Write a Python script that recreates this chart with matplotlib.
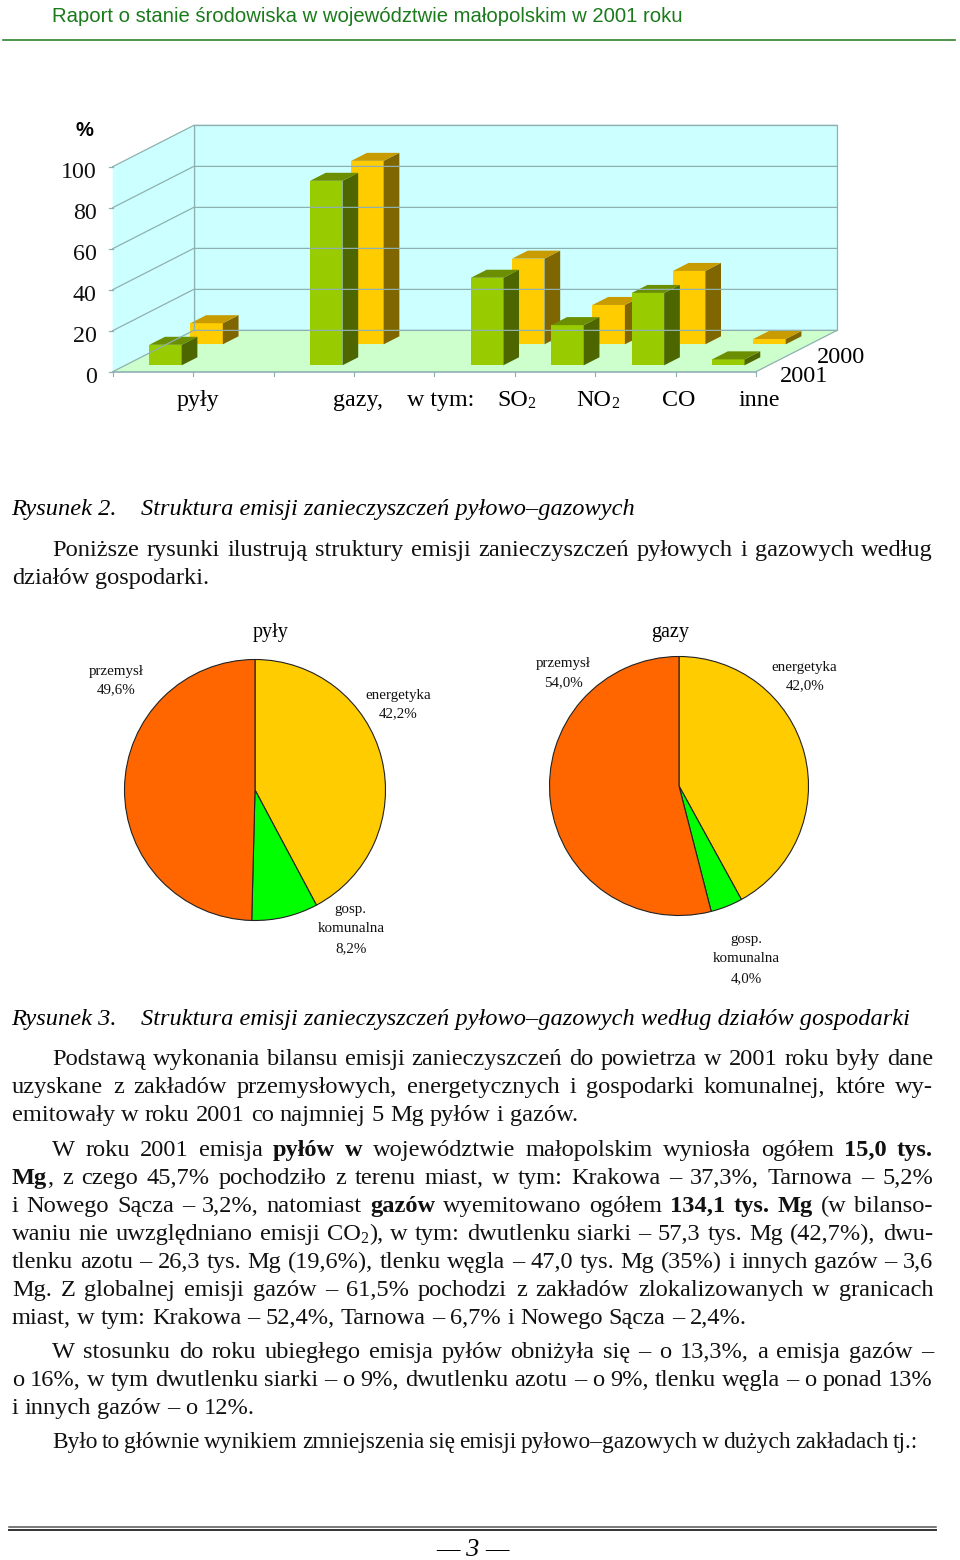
import re
import matplotlib
matplotlib.use("Agg")
import matplotlib.pyplot as plt
from matplotlib.patches import Polygon

plt.rcParams['font.family'] = ['Liberation Serif', 'DejaVu Serif']

W, H = 960, 1560

# bar chart data
years = ['2001', '2000']
slots = [0, 2, 4, 5, 6, 7]
values_2001 = [10, 90, 42.7, 19.6, 35.3, 2.9]
values_2000 = [10.3, 89.5, 41.8, 19.2, 35.8, 2.6]
y_ticks = [0, 20, 40, 60, 80, 100]

# pie data
pie_pyly = [42.2, 8.2, 49.6]
pie_gazy = [42.0, 4.0, 54.0]
pie_colors = ['#FFCC00', '#00FF00', '#FF6600']

HEADER = 'Raport o stanie środowiska w województwie małopolskim w 2001 roku'

BODY_SIZE = 17.6

# (y, x0, x1 or None when not justified, font size, text); * toggles bold, ~ toggles subscript
body = [
    (548, 52, 933, BODY_SIZE, 'Poniższe rysunki ilustrują struktury emisji zanieczyszczeń pyłowych i gazowych według'),
    (576, 12, None, BODY_SIZE, 'działów gospodarki.'),
    (1057, 52, 933, BODY_SIZE, 'Podstawą wykonania bilansu emisji zanieczyszczeń do powietrza w 2001 roku były dane'),
    (1085, 12, 933, BODY_SIZE, 'uzyskane z zakładów przemysłowych, energetycznych i gospodarki komunalnej, które wy-'),
    (1113, 12, None, BODY_SIZE, 'emitowały w roku 2001 co najmniej 5 Mg pyłów i gazów.'),
    (1148, 52, 933, BODY_SIZE, 'W roku 2001 emisja *pyłów w* województwie małopolskim wyniosła ogółem *15,0 tys.*'),
    (1176, 12, 933, BODY_SIZE, '*Mg*, z czego 45,7% pochodziło z terenu miast, w tym: Krakowa – 37,3%, Tarnowa – 5,2%'),
    (1204, 12, 933, BODY_SIZE, 'i Nowego Sącza – 3,2%, natomiast *gazów* wyemitowano ogółem *134,1 tys. Mg* (w bilanso-'),
    (1232, 12, 933, BODY_SIZE, 'waniu nie uwzględniano emisji CO~2~), w tym: dwutlenku siarki – 57,3 tys. Mg (42,7%), dwu-'),
    (1260, 12, 933, BODY_SIZE, 'tlenku azotu – 26,3 tys. Mg (19,6%), tlenku węgla – 47,0 tys. Mg (35%) i innych gazów – 3,6'),
    (1288, 12, 933, BODY_SIZE, 'Mg. Z globalnej emisji gazów – 61,5% pochodzi z zakładów zlokalizowanych w granicach'),
    (1316, 12, None, BODY_SIZE, 'miast, w tym: Krakowa – 52,4%, Tarnowa – 6,7% i Nowego Sącza – 2,4%.'),
    (1350, 52, 933, BODY_SIZE, 'W stosunku do roku ubiegłego emisja pyłów obniżyła się – o 13,3%, a emisja gazów –'),
    (1378, 12, 933, BODY_SIZE, 'o 16%, w tym dwutlenku siarki – o 9%, dwutlenku azotu – o 9%, tlenku węgla – o ponad 13%'),
    (1406, 12, None, BODY_SIZE, 'i innych gazów – o 12%.'),
    (1440, 52, 918, 16.8, 'Było to głównie wynikiem zmniejszenia się emisji pyłowo–gazowych w dużych zakładach tj.:'),
]

fig = plt.figure(figsize=(W / 100, H / 100), dpi=100, facecolor='white')
page = fig.add_axes([0, 0, 1, 1])
page.set_xlim(0, W)
page.set_ylim(H, 0)
page.axis('off')
renderer = fig.canvas.get_renderer()


def box(x0, y_top, x1, y_bottom):
    return [x0 / W, 1 - y_bottom / H, (x1 - x0) / W, (y_bottom - y_top) / H]


def measure(s, **kw):
    t = page.text(0, 0, s, **kw)
    w = t.get_window_extent(renderer).width
    t.remove()
    return w


def word_pieces(word, bold):
    # cut one word into pieces of (text, bold, subscript)
    pieces = []
    sub = False
    for part in re.split(r'(\*|~)', word):
        if part == '*':
            bold = not bold
        elif part == '~':
            sub = not sub
        elif part:
            pieces.append((part, bold, sub))
    return pieces, bold


def piece_style(size, bold, sub):
    return dict(fontsize=size * (0.65 if sub else 1), fontweight='bold' if bold else 'normal')


def draw_line(y, x0, x1, size, text):
    words = []
    bold = False
    for w in text.split(' '):
        pieces, bold = word_pieces(w, bold)
        words.append(pieces)
    widths = []
    for pieces in words:
        widths.append(sum(measure(p[0], **piece_style(size, p[1], p[2])) for p in pieces))
    space = measure('a b', fontsize=size) - measure('ab', fontsize=size)
    if x1 is not None and len(words) > 1:
        space = (x1 - x0 - sum(widths)) / (len(words) - 1)
    x = x0
    for pieces, w in zip(words, widths):
        px = x
        for s, b, sub in pieces:
            style = piece_style(size, b, sub)
            page.text(px, y + 8 + (3 if sub else 0), s, va='baseline', ha='left', color='#111111', **style)
            px += measure(s, **style)
        x += w + space


# header
page.text(52, 16, HEADER, family='Liberation Sans', fontsize=14.6, color='#1B7A1B', va='center')
page.plot([3, 955], [40, 40], color='#2E842E', lw=1.2)

# bar chart, front plane of the box is the axes rectangle
ax = fig.add_axes(box(112.7, 166.7, 756, 371.7))
ax.set_xlim(0, 8)
ax.set_ylim(0, 100)
ax.axis('off')
DX = 81 / 80.4
DY = 41.3 / 2.05
WALL = '#CCFFFF'
FLOOR = '#CCFFCC'
GRID = '#8FB0B0'


def proj(x, v, d):
    return (x + d * DX, v + d * DY)


def face(points, color, edge='none', lw=0):
    ax.add_patch(Polygon([proj(*p) for p in points], closed=True, facecolor=color,
                         edgecolor=edge, lw=lw, clip_on=False))


face([(0, 0, 1), (8, 0, 1), (8, 100, 1), (0, 100, 1)], WALL, GRID, 0.9)
face([(0, 0, 0), (0, 0, 1), (0, 100, 1), (0, 100, 0)], WALL)
face([(0, 0, 0), (8, 0, 0), (8, 0, 1), (0, 0, 1)], FLOOR)
for v in y_ticks:
    line = [proj(0, v, 0), proj(0, v, 1), proj(8, v, 1)]
    ax.plot([p[0] for p in line], [p[1] for p in line], color=GRID, lw=0.9, clip_on=False)
top_back = proj(0, 100, 1)
ax.plot([top_back[0], top_back[0]], [proj(0, 0, 1)[1], top_back[1]], color=GRID, lw=0.9, clip_on=False)
for v in y_ticks:
    ax.plot([-0.04, 0], [v, v], color=GRID, lw=0.9, clip_on=False)
    ax.text(-0.2, v - 3, str(v), fontsize=17.3, ha='right', va='center', color='#111111')
ax.plot([0, 8], [0, 0], color=GRID, lw=1.2, clip_on=False)
for i in range(9):
    ax.plot([i, i], [0, -2], color=GRID, lw=0.8, clip_on=False)
p0, p1 = proj(8, 0, 0), proj(8, 0, 1)
ax.plot([p0[0], p1[0]], [p0[1], p1[1]], color=GRID, lw=0.9, clip_on=False)


def bar3d(slot, value, d_front, front, top, side):
    bw = 32.4 / 80.4
    x0 = slot + (1 - bw) / 2
    x1 = x0 + bw
    d1 = d_front + 0.194
    face([(x0, 0, d_front), (x1, 0, d_front), (x1, value, d_front), (x0, value, d_front)], front)
    face([(x1, 0, d_front), (x1, 0, d1), (x1, value, d1), (x1, value, d_front)], side)
    face([(x0, value, d_front), (x1, value, d_front), (x1, value, d1), (x0, value, d1)], top)


for s, v in zip(slots, values_2000):
    bar3d(s, v, 0.663, '#FFCC00', '#C89B00', '#806600')
for s, v in zip(slots, values_2001):
    bar3d(s, v, 0.155, '#99CC00', '#6B8F00', '#4D6600')

page.text(84.5, 131, '%', family='Liberation Sans', fontsize=14.5, fontweight='bold', ha='center', va='center')
for x, s in [(177, 'pyły'), (333, 'gazy,'), (407, 'w tym:'), (739, 'inne')]:
    page.text(x, 406, s, fontsize=17.3, va='baseline')
for x, s in [(497, 'SO'), (576, 'NO')]:
    t = page.text(x, 406, s, fontsize=17.3, va='baseline')
    page.text(x + t.get_window_extent(renderer).width, 408, '2', fontsize=11.5, va='baseline')
page.text(662, 406, 'CO', fontsize=17.3, va='baseline')
page.text(817, 363, years[1], fontsize=17.5, va='baseline')
page.text(780, 382, years[0], fontsize=17.5, va='baseline')

# captions
captions = [(507, 'Rysunek 2.', 'Struktura emisji zanieczyszczeń pyłowo–gazowych'),
            (1017, 'Rysunek 3.', 'Struktura emisji zanieczyszczeń pyłowo–gazowych według działów gospodarki')]
for y, label, s in captions:
    page.text(11, y + 8, label, fontsize=17.6, style='italic', va='baseline')
    page.text(141, y + 8, s, fontsize=17.6, style='italic', va='baseline')


def draw_pie(values, cx, cy, r):
    a = fig.add_axes(box(cx - r, cy - r, cx + r, cy + r))
    a.pie(values, colors=pie_colors, startangle=90, counterclock=False, radius=1,
          wedgeprops=dict(edgecolor='#222222', linewidth=0.8))
    a.set_xlim(-1, 1)
    a.set_ylim(-1, 1)


draw_pie(pie_pyly, 255, 790, 130.5)
draw_pie(pie_gazy, 679, 786, 129.5)

page.text(271, 633, 'pyły', fontsize=14.5, ha='center', va='center')
page.text(670, 633, 'gazy', fontsize=14.5, ha='center', va='center')
pie_labels = [
    (116, 671, 'przemysł'), (116, 690, '49,6%'),
    (398, 695, 'energetyka'), (398, 714, '42,2%'),
    (350, 910, 'gosp.'), (351, 929, 'komunalna'), (351, 949, '8,2%'),
    (563, 664, 'przemysł'), (563, 683, '54,0%'),
    (804, 667, 'energetyka'), (805, 686, '42,0%'),
    (746, 940, 'gosp.'), (746, 959, 'komunalna'), (746, 979, '4,0%'),
]
for x, y, s in pie_labels:
    page.text(x, y, s, fontsize=10.8, ha='center', va='center', color='#111111')

for y, x0, x1, size, s in body:
    draw_line(y, x0, x1, size, s)

# footer
page.plot([9, 936], [1526.5, 1526.5], color='#555555', lw=1.1)
page.plot([9, 936], [1529.5, 1529.5], color='#333333', lw=1.4)
page.text(472.5, 1556, '— 3 —', fontsize=19, style='italic', ha='center', va='baseline')

fig.savefig('out.png', dpi=100)
